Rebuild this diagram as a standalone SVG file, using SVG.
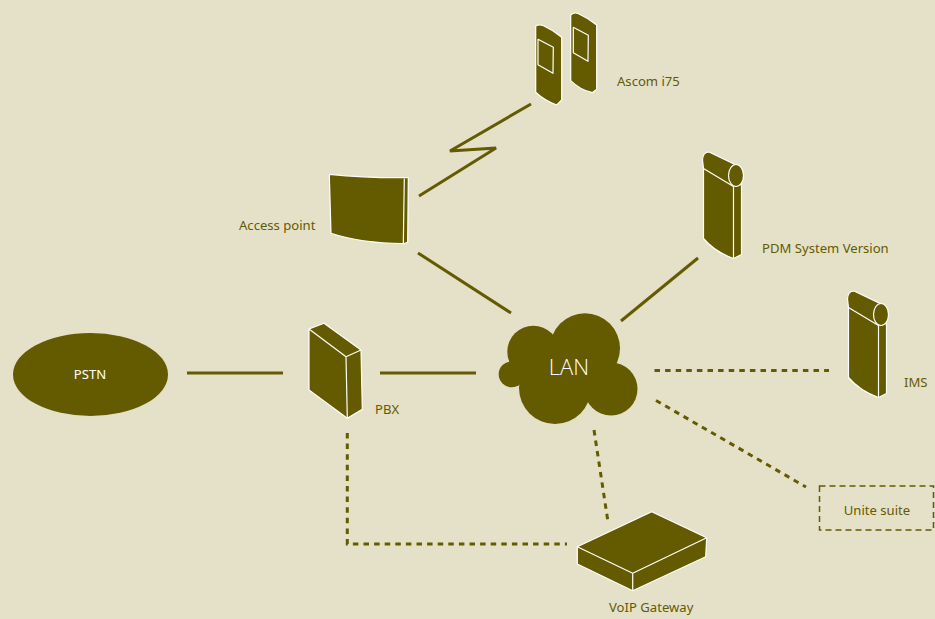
<svg xmlns="http://www.w3.org/2000/svg" xmlns:xlink="http://www.w3.org/1999/xlink" width="935" height="619" viewBox="0 0 935 619">
<style>
.s{fill:#645a00;stroke:#fff;stroke-width:1.200;stroke-linejoin:round}
.l{fill:none;stroke:#fff;stroke-width:1.200;stroke-linejoin:round}
.c{fill:none;stroke:#645a00;stroke-width:3}
.d{stroke-dasharray:5.500 5.100}
text{font-family:"Noto Sans","Liberation Sans",sans-serif;font-size:13.100px;fill:#645a00}
</style>
<defs>
<g id="server">
<path class="s" d="M702.500 160Q703 152 709 152L735 164.500L741.500 186.500V254.500L733.500 258.500Q715 252 703.500 238.500V168.500Z"/>
<path class="l" d="M703.500 168.500L733.500 186.500V258.500"/>
<ellipse class="s" cx="736" cy="175.500" rx="7.500" ry="11"/>
</g>
</defs>
<rect width="935" height="619" fill="#e5e1c9"/>
<g id="connectors">
<path class="c" d="M531 104L450 151L496 148L419 196"/>
<path class="c" d="M418 253L511 313"/>
<path class="c" d="M698 258L621 321"/>
<path class="c" d="M187 373H283"/>
<path class="c" d="M380 373H476"/>
<path class="c d" d="M654.500 370.500H829"/>
<path class="c d" d="M656 400.500L806 487"/>
<path class="c d" d="M594 430L608 522"/>
<path class="c d" d="M347.300 433V544H567"/>
</g>
<g id="phones">
<path class="s" d="M535.700 26Q539 24 543 25.500Q553 30 561.700 37.300V100L556.700 105Q545 101 535.700 92.300Z"/>
<path class="l" d="M538 39.300L553.300 47.300L553 73.300L538 64.700Z"/>
<path class="s" d="M570.700 15Q574 12 578 13.500Q588 18 596.700 25V89.300L592.300 92.700Q580 90 570.700 80.700Z"/>
<path class="l" d="M573.300 27.300L588.300 35.300L588 61.300L573.300 52.700Z"/>
<text x="617" y="86">Ascom i75</text>
</g>
<g id="access-point">
<path class="s" d="M329.300 174.300Q365 178 405 177.700H408.300L407.700 242.300L403.300 243.700Q360 243 331 233.300Z"/>
<path class="l" d="M404.300 178.500L403.300 243.700"/>
<text x="239" y="230">Access point</text>
</g>
<g id="pdm-system">
<use xlink:href="#server" href="#server"/>
<text x="762" y="253">PDM System Version</text>
</g>
<g id="ims">
<use xlink:href="#server" href="#server" transform="translate(145 139)"/>
<text x="904" y="387">IMS</text>
</g>
<g id="pstn">
<ellipse cx="90.500" cy="374.500" rx="77.500" ry="41.500" fill="#645a00"/>
<text x="90" y="379" text-anchor="middle" style="fill:#fff">PSTN</text>
</g>
<g id="pbx">
<path class="s" d="M309 329L324 323.300L361 350L362.300 409.300L347.300 418.300L309 390Z"/>
<path class="l" d="M309 329L346 356.700L347.300 418.300M346 356.700L361 350"/>
<text x="375" y="414">PBX</text>
</g>
<g id="lan" fill="#645a00">
<circle cx="585" cy="348.300" r="35"/>
<circle cx="533.300" cy="351.700" r="26"/>
<circle cx="511.700" cy="374.300" r="13"/>
<circle cx="555" cy="388" r="36"/>
<circle cx="611" cy="389" r="26.500"/>
<rect x="530" y="345" width="70" height="50"/>
<text x="569" y="375" text-anchor="middle" style="fill:#fff;font-size:22px;font-weight:300;font-family:'Open Sans','Noto Sans',sans-serif">LAN</text>
</g>
<g id="voip-gateway">
<path class="s" d="M577.300 546.700L651.700 511.700L706.700 537.700L705.700 556.700L632.700 590.700L577.300 564Z"/>
<path class="l" d="M577.300 546.700L632.700 573.300L706.700 537.700M632.700 573.300V590.700"/>
<text x="609" y="612">VoIP Gateway</text>
</g>
<g id="unite-suite">
<rect x="819.500" y="486" width="114" height="44" fill="none" stroke="#645a00" stroke-width="1.500" stroke-dasharray="6 4"/>
<text x="877" y="515" text-anchor="middle">Unite suite</text>
</g>
</svg>
